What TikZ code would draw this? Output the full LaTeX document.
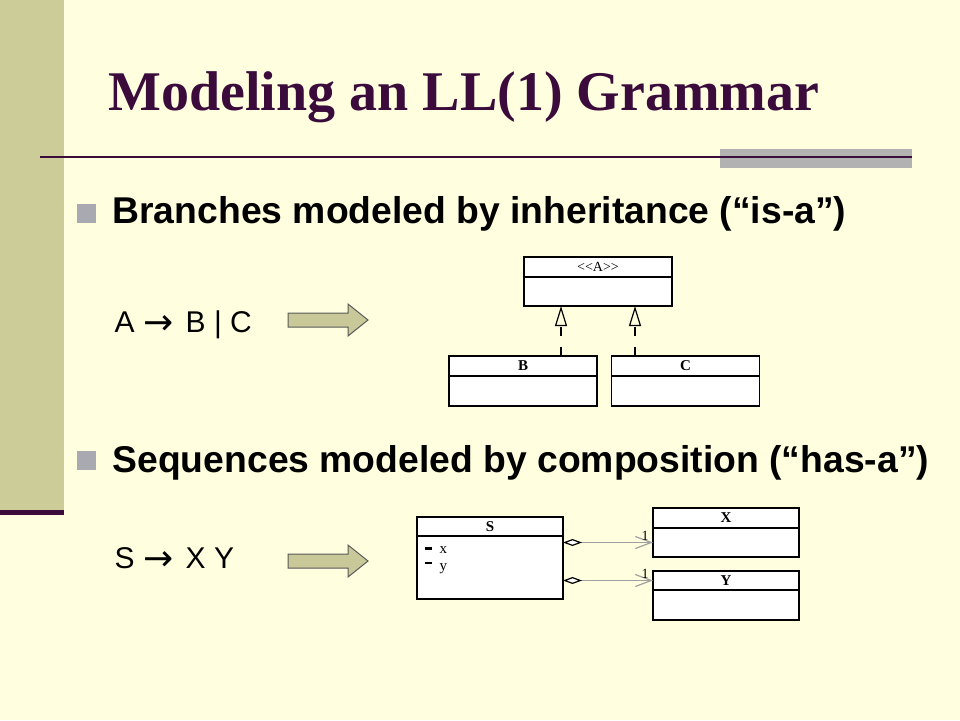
\documentclass[tikz,border=0pt]{standalone}
\usepackage{fontspec}
\setmainfont{Liberation Serif}
\newfontfamily\sansfont{Liberation Sans}
\newfontfamily\arrowfont{DejaVu Sans}
\usetikzlibrary{positioning,arrows.meta}
\definecolor{slidebg}{HTML}{FFFFE0}
\definecolor{sidebar}{HTML}{CCCC99}
\definecolor{titlepurple}{HTML}{3B0B3B}
\definecolor{rulegray}{HTML}{B2B2B2}
\definecolor{bulletgray}{HTML}{A9A9B1}
\definecolor{arrowfill}{HTML}{C8C898}
\definecolor{linkgray}{HTML}{A0A0A0}
\newcommand\derives{\hspace{9pt}\raisebox{-2pt}{\arrowfont\fontsize{36}{36}\selectfont →}\hspace{12pt}}
\begin{document}
\begin{tikzpicture}[x=1pt,y=-1pt,
    umlhead/.style={draw,fill=white,line width=1.2pt,outer sep=0pt,inner sep=0pt,
        minimum width=148pt,minimum height=20pt,font=\fontsize{15}{15}\selectfont\bfseries},
    umlbody/.style={draw,fill=white,line width=1.2pt,outer sep=0pt,inner sep=0pt,
        minimum width=148pt,minimum height=29pt},
    realize/.style={line width=1.2pt,dash pattern=on 9pt off 11pt,
        -{Triangle[open,length=20pt,width=12pt]}},
    aggr/.style={linkgray,line width=1.2pt,
        {Diamond[fill=white,color=black,length=19pt,width=7pt]}-{Straight Barb[length=16pt,width=12pt]}},
    mult/.style={pos=1,anchor=south,xshift=-8pt,inner sep=1pt,black,font=\fontsize{14}{14}\selectfont},
    bullet/.style={fill=bulletgray,minimum size=19pt,inner sep=0pt},
    bullettext/.style={anchor=base west,font=\sansfont\bfseries\fontsize{37.3}{37.3}\selectfont},
    ruletext/.style={anchor=base west,font=\sansfont\fontsize{30}{30}\selectfont},
    blockarrow/.style={fill=arrowfill,draw=gray!70!black,line width=1pt}]
    \useasboundingbox (0,0) rectangle (960,720);
    % slide background
    \fill[slidebg] (0,0) rectangle (960,720);
    \fill[sidebar] (0,0) rectangle (64,510);
    \fill[titlepurple] (0,510) rectangle (64,515);
    \fill[rulegray] (720,149) rectangle (912,168);
    \draw[titlepurple,line width=2pt] (40,157) -- (912,157);
    \node[anchor=base west,text=titlepurple,font=\bfseries\fontsize{56}{58}\selectfont]
        (title) at (105,110) {Modeling an LL(1) Grammar};
    % bullets
    \node[bullet] (b1) at (86.5,213.5) {};
    \node[bullettext] (branches) at (109,223) {Branches modeled by inheritance (“is-a”)};
    \node[bullet] (b2) at (86.5,460.5) {};
    \node[bullettext] (sequences) at (109,472) {Sequences modeled by composition (“has-a”)};
    \node[ruletext] (rule1) at (111,332) {A\derives B | C};
    \node[ruletext] (rule2) at (111,568) {S\derives X Y};
    \foreach \y in {320,561}
        \filldraw[blockarrow] (288,\y-7) -- (348,\y-7) -- (348,\y-16) -- (368,\y)
            -- (348,\y+16) -- (348,\y+7) -- (288,\y+7) -- cycle;
    % inheritance
    \node[umlhead] (Ahead) at (598,267) {\fontsize{14}{14}\selectfont\mdseries <{}<A>{}>};
    \node[umlbody,below=0pt of Ahead] (Abody) {};
    \node[umlhead] (Bhead) at (523,366) {B};
    \node[umlbody,below=0pt of Bhead,minimum height=30pt] (Bbody) {};
    \node[umlhead] (Chead) at (685.5,366) {C};
    \node[umlbody,below=0pt of Chead,minimum height=30pt] (Cbody) {};
    \draw[realize] ([xshift=38pt]Bhead.north) -- ([xshift=-37pt]Abody.south);
    \draw[realize] ([xshift=-50.5pt]Chead.north) -- ([xshift=37pt]Abody.south);
    % composition
    \node[umlhead,minimum width=146pt,minimum height=19pt] (Shead) at (490,526.5) {S};
    \node[umlbody,below=0pt of Shead,minimum width=146pt,minimum height=63pt] (Sbody) {};
    \node[anchor=base west,font=\fontsize{15}{15}\selectfont] (attrx) at (421,553)
        {\rule[3.5pt]{7pt}{2.5pt}\hspace{8pt}x};
    \node[anchor=base west,font=\fontsize{15}{15}\selectfont] (attry) at (421,570)
        {\rule[6pt]{7pt}{2.5pt}\hspace{8pt}y};
    \node[umlhead,minimum width=146pt] (Xhead) at (726,518) {X};
    \node[umlbody,below=0pt of Xhead,minimum width=146pt] (Xbody) {};
    \node[umlhead,minimum width=146pt,minimum height=19pt] (Yhead) at (726,580.5) {Y};
    \node[umlbody,below=0pt of Yhead,minimum width=146pt,minimum height=30pt] (Ybody) {};
    \draw[aggr] (Sbody.east |- Xbody.west) -- (Xbody.west) node[mult] (mx) {1};
    \draw[aggr] (Sbody.east |- Yhead.west) -- (Yhead.west) node[mult] (my) {1};
\end{tikzpicture}
\end{document}
